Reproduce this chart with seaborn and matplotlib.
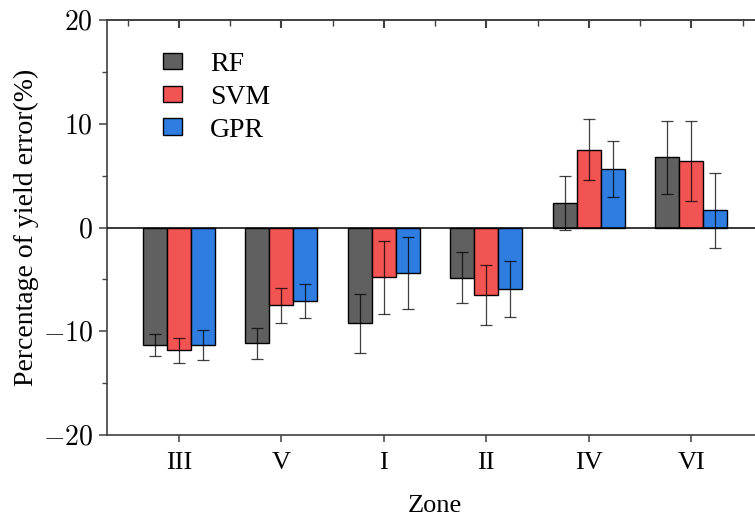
import numpy as np
import pandas as pd
import matplotlib
matplotlib.use('Agg')
import matplotlib.pyplot as plt
from matplotlib.ticker import FuncFormatter
import seaborn as sns

# data
zones = ['III', 'V', 'I', 'II', 'IV', 'VI']
models = ['RF', 'SVM', 'GPR']
rf_mean = [-11.35, -11.15, -9.25, -4.85, 2.4, 6.75]
svm_mean = [-11.85, -7.5, -4.8, -6.5, 7.5, 6.4]
gpr_mean = [-11.3, -7.05, -4.4, -5.95, 5.6, 1.65]
rf_err = [1.05, 1.5, 2.85, 2.45, 2.6, 3.55]
svm_err = [1.2, 1.7, 3.5, 2.9, 2.95, 3.85]
gpr_err = [1.45, 1.65, 3.5, 2.7, 2.7, 3.65]

colors = ['#606060', '#F25353', '#2F7DE1']

df = pd.DataFrame({
    'Zone': zones * 3,
    'Model': [m for m in models for _ in zones],
    'Value': rf_mean + svm_mean + gpr_mean,
    'Err': rf_err + svm_err + gpr_err,
})

sns.set_style('ticks')
plt.rcParams['font.family'] = ['Liberation Serif', 'DejaVu Serif']
plt.rcParams['mathtext.fontset'] = 'cm'
plt.rcParams['text.color'] = 'black'
plt.rcParams['axes.labelcolor'] = 'black'
plt.rcParams['xtick.labelcolor'] = 'black'
plt.rcParams['ytick.labelcolor'] = 'black'

fig = plt.figure(figsize=(7.55, 5.17), dpi=100)
ax = fig.add_axes([107 / 755, 82 / 517, 656 / 755, 415 / 517])

sns.barplot(data=df, x='Zone', y='Value', hue='Model', order=zones, hue_order=models,
            palette=colors, width=0.7, gap=0, errorbar=None, edgecolor='black',
            linewidth=1.0, saturation=1, ax=ax)

# error bars on bar centres
for container, m in zip(ax.containers, models):
    sub = df[df['Model'] == m].set_index('Zone').loc[zones]
    xs = [p.get_x() + p.get_width() / 2 for p in container.patches]
    ax.errorbar(xs, sub['Value'], yerr=sub['Err'], fmt='none', ecolor='black',
                elinewidth=0.9, capsize=4.5, capthick=0.9, alpha=0.75, zorder=5)

ax.axhline(0, color='black', lw=1.1, zorder=4)

ax.set_ylim(-20, 20)
ax.set_xlim(-0.7, 5.7)
ax.set_yticks([-20, -10, 0, 10, 20])
ax.set_yticks([-15, -5, 5, 15], minor=True)
ax.yaxis.set_major_formatter(FuncFormatter(lambda v, p: f'${int(v)}$'))

for s in ['left', 'bottom', 'top', 'right']:
    ax.spines[s].set_color('#404040')
    ax.spines[s].set_linewidth(1.2)

ax.tick_params(axis='y', which='major', direction='out', length=6, width=1.1,
               color='#404040', labelsize=20, pad=4)
ax.tick_params(axis='y', which='minor', direction='out', length=3.5, width=1.0,
               color='#404040')
ax.tick_params(axis='x', which='major', direction='out', length=5, width=1.1,
               color='#404040', labelsize=19, pad=7)

# top axis ticks pointing inward
top = ax.secondary_xaxis('top')
top.set_xticks(range(len(zones)))
top.set_xticks(np.arange(-0.5, len(zones)), minor=True)
top.tick_params(which='major', direction='in', length=6, width=1.5, color='#404040',
                labeltop=False)
top.tick_params(which='minor', direction='in', length=4, width=1.0, color='#404040')
top.spines['top'].set_color('#404040')
top.spines['top'].set_linewidth(1.2)

ax.set_xlabel('Zone', fontsize=19, labelpad=15)
ax.set_ylabel('Percentage of yield error(%)', fontsize=20, labelpad=3)

ax.legend(loc='upper left', bbox_to_anchor=(0.085, 0.923), frameon=False, fontsize=20,
          handlelength=0.7, handleheight=0.55, handletextpad=1.0, labelspacing=0.28,
          borderaxespad=0, borderpad=0)

fig.savefig('out.png', dpi=100)
